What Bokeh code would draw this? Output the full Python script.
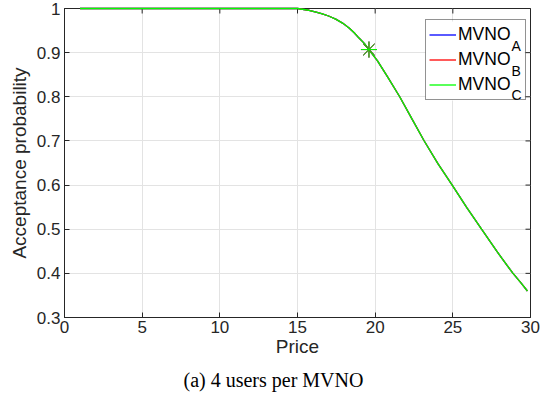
import math
from bokeh.plotting import figure
from bokeh.core.properties import value
from bokeh.models import (FixedTicker, Legend, LegendItem, Range1d, Title, BoxAnnotation)
from bokeh.embed import file_html
from bokeh.resources import INLINE

# ---- data ----
price = [1.0, 2.0, 3.0, 4.0, 5.0, 6.0, 7.0, 8.0, 9.0, 10.0, 11.0, 12.0, 13.0, 14.0, 15.0,
         15.74, 16.2, 16.6, 17.0, 17.46, 17.9, 18.32, 18.65, 18.96, 19.3, 19.6,
         20.14, 20.8, 21.58, 22.35, 23.14, 24.05, 24.96, 25.9, 26.85, 27.85,
         28.85, 29.4, 29.8]
acc_A = [1.0, 1.0, 1.0, 1.0, 1.0, 1.0, 1.0, 1.0, 1.0, 1.0, 1.0, 1.0, 1.0, 1.0, 1.0,
         0.996, 0.992, 0.988, 0.983, 0.976, 0.967, 0.956, 0.945, 0.933, 0.921, 0.907,
         0.882, 0.845, 0.800, 0.751, 0.701, 0.648, 0.600, 0.549, 0.500, 0.449,
         0.401, 0.378, 0.360]
acc_B = list(acc_A)
acc_C = list(acc_A)

opt_price = {"A": [19.6], "B": [19.6], "C": [19.6]}
opt_acc = {"A": [0.907], "B": [0.907], "C": [0.907]}

x_ticks = [0, 5, 10, 15, 20, 25, 30]
y_ticks = [0.3, 0.4, 0.5, 0.6, 0.7, 0.8, 0.9, 1.0]
series_names = ["A", "B", "C"]
series_colors = ["#0000ff", "#ff0000", "#00ff00"]
caption = "(a) 4 users per MVNO"

AX = "#262626"
X0, X1, Y0, Y1 = 0, 30, 0.3, 1.0

# ---- layout (pixels) ----
W, H = 548, 400
FL, FT, FW, FH = 64, 8, 466, 309   # frame left/top/width/height

p = figure(width=W, height=H, output_backend="svg", toolbar_location=None,
           x_range=Range1d(X0, X1), y_range=Range1d(Y0, Y1),
           min_border_left=FL, min_border_right=W - FL - FW, min_border_top=FT,
           min_border_bottom=H - FT - FH)
p.outline_line_color = AX
p.outline_line_width = 1
p.background_fill_color = "white"
p.border_fill_color = "white"


def px_x(px):
    return X0 + (px - FL) / FW * (X1 - X0)


def px_y(py):
    return Y1 - (py - FT) / FH * (Y1 - Y0)


p.xaxis.ticker = FixedTicker(ticks=x_ticks)
p.yaxis.ticker = FixedTicker(ticks=y_ticks)
p.yaxis.major_label_overrides = {1.0: "1"}
for ax in p.xaxis + p.yaxis:
    ax.axis_line_color = AX
    ax.axis_line_width = 1
    ax.major_tick_line_color = AX
    ax.major_tick_line_width = 1
    ax.major_tick_in = 5
    ax.major_tick_out = 0
    ax.minor_tick_line_color = None
    ax.major_label_text_font = "Liberation Sans"
    ax.major_label_text_font_size = "17px"
    ax.major_label_text_color = AX
    ax.axis_label_text_font = "Liberation Sans"
    ax.axis_label_text_font_size = "19px"
    ax.axis_label_text_font_style = "normal"
    ax.axis_label_text_color = AX
p.xaxis.axis_label = "Price"
p.yaxis.axis_label = "Acceptance probability"
p.xaxis.major_label_standoff = 3
p.yaxis.major_label_standoff = 4
p.xaxis.axis_label_standoff = 0
p.yaxis.axis_label_standoff = 4

p.xgrid.ticker = FixedTicker(ticks=x_ticks)
p.ygrid.ticker = FixedTicker(ticks=y_ticks)
p.xgrid.grid_line_color = "#e3e3e3"
p.ygrid.grid_line_color = "#e3e3e3"

# inward tick marks on the top and right edges of the box (half clipped by frame)
p.scatter(x_ticks, [Y1] * len(x_ticks), marker="dash", size=10, angle=math.pi / 2,
          line_color=AX, line_width=1)
p.scatter([X1] * len(y_ticks), y_ticks, marker="dash", size=10,
          line_color=AX, line_width=1)

# legend geometry (pixels)
LEG_L, LEG_T = 425, 21
LEG_W = 3 + 27 + 2 + 64 + 3
LEG_H = 3 * 2 + 3 * 23 + 2 * 2

# white background behind the (transparent) legend, hides the grid lines
p.add_layout(BoxAnnotation(left=px_x(LEG_L), right=px_x(LEG_L + LEG_W),
                           top=px_y(LEG_T), bottom=px_y(LEG_T + LEG_H),
                           fill_color="white", fill_alpha=1, line_color=None,
                           level="glyph"))

acc = {"A": acc_A, "B": acc_B, "C": acc_C}
items = []
for name, col in zip(series_names, series_colors):
    r = p.line(price, acc[name], line_color=col, line_width=1.3, level="overlay")
    items.append(LegendItem(label="MVNO", renderers=[r]))
for name, col in zip(series_names, series_colors):
    p.scatter(opt_price[name], opt_acc[name], marker="asterisk", size=16,
              line_color=col, line_width=1, level="overlay")

legend = Legend(items=items, location=(LEG_L - FL, FT + FH - LEG_T - LEG_H), margin=0,
                padding=3, spacing=2, label_height=23, glyph_height=23, glyph_width=27,
                label_standoff=2, label_width=64,
                label_text_font="Liberation Sans", label_text_font_size="17.5px",
                label_text_color="black", label_text_baseline="alphabetic",
                border_line_color=AX, border_line_width=1,
                background_fill_alpha=0)
p.add_layout(legend)

# subscripts of the legend labels
p.text(x=[px_x(511)] * 3, y=[px_y(b) for b in (45.5, 70, 94.5)], text=series_names,
       text_font=value("Liberation Sans"), text_font_size="14px",
       text_color="black", text_align="left", text_baseline="alphabetic",
       level="overlay")

p.add_layout(Title(text=caption, align="left", offset=119, standoff=14,
                   text_font="Liberation Serif", text_font_size="20px",
                   text_font_style="normal", text_color="black"), "below")

open("out.html", "w").write(file_html(p, INLINE))
